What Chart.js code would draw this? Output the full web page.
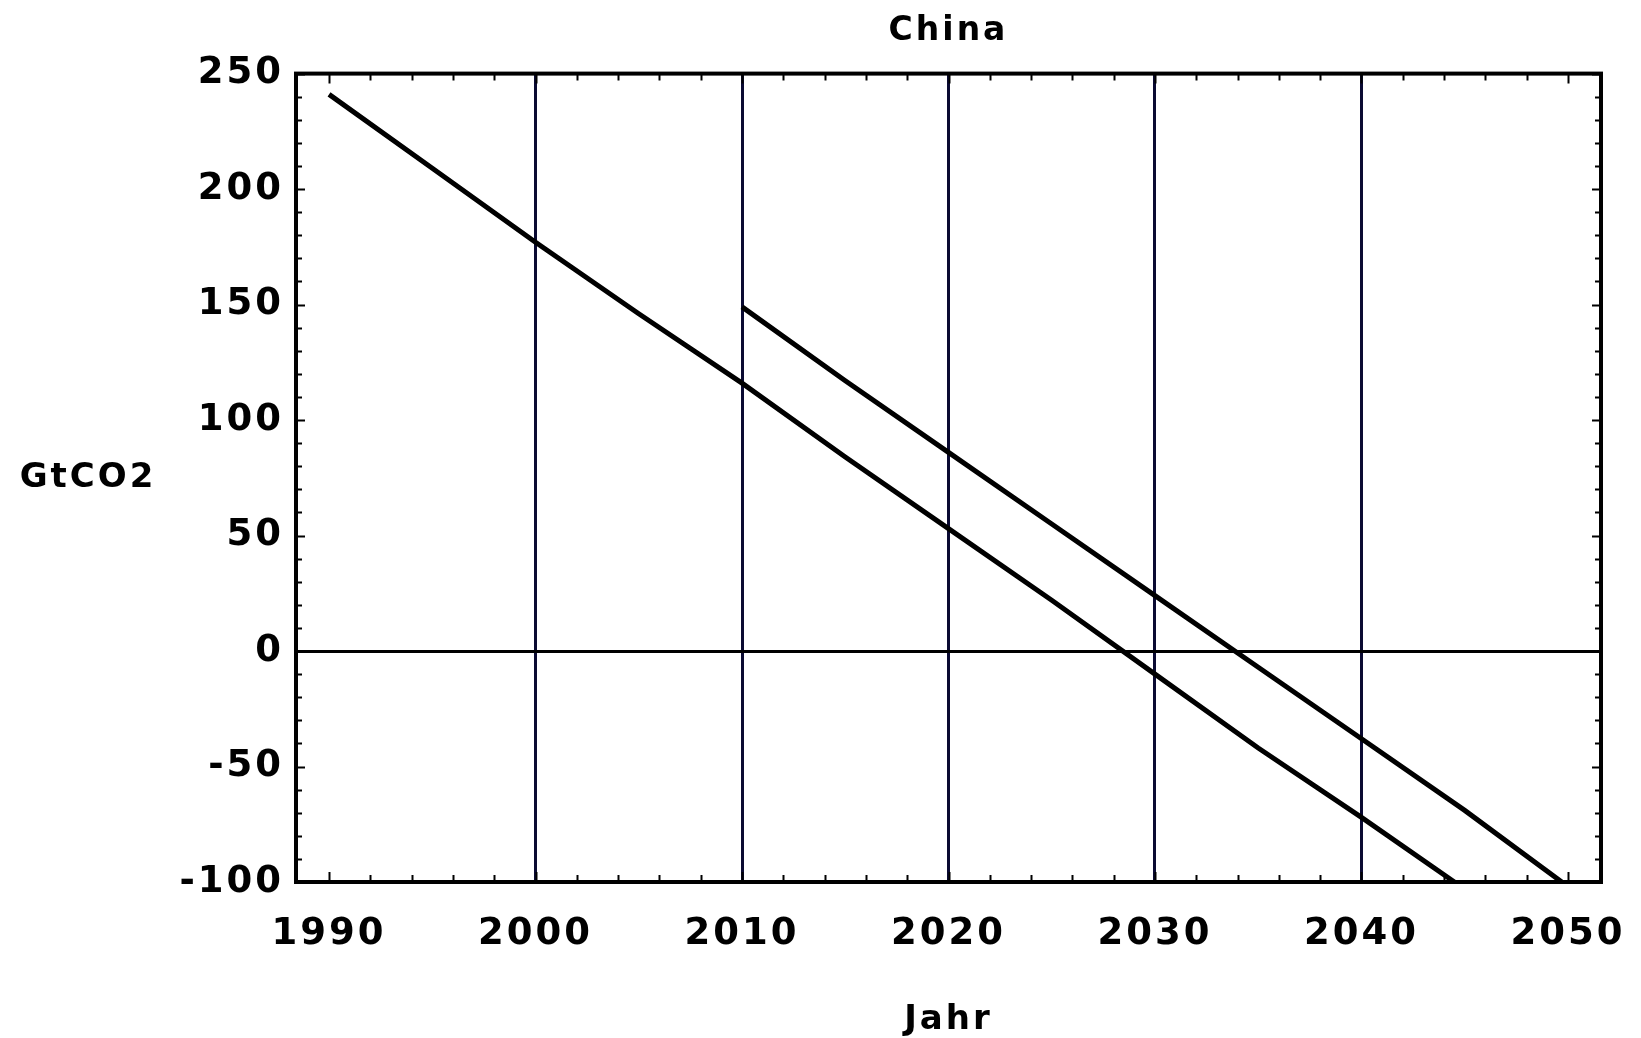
<!DOCTYPE html>
<html>
<head>
<meta charset="utf-8">
<script src="https://cdn.jsdelivr.net/npm/chart.js@4"></script>
<style>
  body { margin: 0; background: #fff; }
  #wrap { width: 1641px; height: 1038px; }
</style>
</head>
<body>
<div id="wrap"><canvas id="myChart" width="1641" height="1038"></canvas></div>
<script>
  // values
  var yearsA = [1990, 1995, 2000, 2005, 2010, 2015, 2020, 2025, 2030, 2035, 2040, 2044.5];
  var co2A = [241, 209, 177, 146, 116, 84, 53, 22, -10, -42, -72, -100];
  var yearsB = [2010, 2015, 2020, 2025, 2030, 2035, 2040, 2045, 2049.7];
  var co2B = [149, 117, 86, 55, 24, -7, -38, -69, -100];
  var xTicks = [1990, 2000, 2010, 2020, 2030, 2040, 2050];
  var yTicks = [-100, -50, 0, 50, 100, 150, 200, 250];

  function toPoints(xs, ys) {
    return xs.map(function (x, i) { return { x: x, y: ys[i] }; });
  }

  var font = 'DejaVu Sans';

  // frame, inward tick marks and the horizontal y-axis label
  var framePlugin = {
    id: 'frame',
    beforeDraw: function (chart) {
      var c = chart.ctx;
      c.save();
      c.fillStyle = '#fff';
      c.fillRect(0, 0, chart.width, chart.height);
      c.restore();
      c.letterSpacing = '3px';
    },
    afterDraw: function (chart) {
      var c = chart.ctx;
      var a = chart.chartArea;
      var xs = chart.scales.x, ys = chart.scales.y;
      c.save();
      c.strokeStyle = '#000';
      c.lineWidth = 2;
      c.beginPath();
      for (var yr = 1990; yr <= 2050; yr += 2) {
        var px = Math.round(xs.getPixelForValue(yr)) + 0.5;
        var len = yr % 10 === 0 ? 10 : 7;
        c.moveTo(px, a.bottom); c.lineTo(px, a.bottom - len);
        c.moveTo(px, a.top); c.lineTo(px, a.top + len);
      }
      for (var v = -100; v <= 250; v += 10) {
        var py = Math.round(ys.getPixelForValue(v)) + 0.5;
        var l2 = v % 50 === 0 ? 9 : 6;
        c.moveTo(a.left, py); c.lineTo(a.left + l2, py);
        c.moveTo(a.right, py); c.lineTo(a.right - l2, py);
      }
      c.stroke();
      c.lineWidth = 4;
      c.strokeRect(a.left, a.top, a.right - a.left, a.bottom - a.top);

      c.fillStyle = '#000';
      c.font = 'bold 34px ' + font;
      c.textAlign = 'center';
      c.textBaseline = 'middle';
      c.fillText('GtCO2', 88, (a.top + a.bottom) / 2);
      c.restore();
    }
  };

  var data = {
    datasets: [{
      label: 'A',
      data: toPoints(yearsA, co2A),
      borderColor: '#000',
      borderWidth: 5,
      pointRadius: 0,
      showLine: true
    }, {
      label: 'B',
      data: toPoints(yearsB, co2B),
      borderColor: '#000',
      borderWidth: 5,
      pointRadius: 0,
      showLine: true
    }]
  };

  var options = {
    responsive: false,
    animation: false,
    layout: { padding: { left: 0, right: 40, top: 0, bottom: 0 } },
    plugins: {
      legend: { display: false },
      tooltip: { enabled: false },
      title: {
        display: true,
        text: 'China',
        fullSize: false,
        color: '#000',
        font: { family: font, size: 33, weight: 'bold' },
        padding: { top: 12, bottom: 22 }
      }
    },
    scales: {
      x: {
        type: 'linear',
        min: 1988.4,
        max: 2051.6,
        afterBuildTicks: function (s) {
          s.ticks = xTicks.map(function (v) { return { value: v }; });
        },
        afterFit: function (s) {
          s.height = 156;
          s.paddingLeft = 0;
          s.paddingRight = 0;
        },
        grid: {
          drawTicks: false,
          lineWidth: 3,
          color: function (ctx) {
            var v = ctx.tick && ctx.tick.value;
            return (v >= 2000 && v <= 2040) ? '#0a0a32' : 'rgba(0,0,0,0)';
          }
        },
        border: { display: false },
        ticks: {
          color: '#000',
          padding: 30,
          maxRotation: 0,
          font: { family: font, size: 37, weight: 'bold' },
          callback: function (v) { return String(v); }
        },
        title: {
          display: true,
          text: 'Jahr',
          color: '#000',
          font: { family: font, size: 34, weight: 'bold', lineHeight: 1.0 },
          padding: { top: 0, bottom: 1 }
        }
      },
      y: {
        min: -100,
        max: 250,
        afterBuildTicks: function (s) {
          s.ticks = yTicks.map(function (v) { return { value: v }; });
        },
        afterFit: function (s) { s.width = 296; },
        grid: {
          drawTicks: false,
          lineWidth: 3,
          color: function (ctx) {
            return (ctx.tick && ctx.tick.value === 0) ? '#000' : 'rgba(0,0,0,0)';
          }
        },
        border: { display: false },
        ticks: {
          color: '#000',
          padding: 12,
          font: { family: font, size: 37, weight: 'bold' }
        }
      }
    }
  };

  var ctx = document.getElementById('myChart').getContext('2d');
  var chart = new Chart(ctx, {
    type: 'scatter',
    data: data,
    options: options,
    plugins: [framePlugin]
  });
</script>
</body>
</html>
